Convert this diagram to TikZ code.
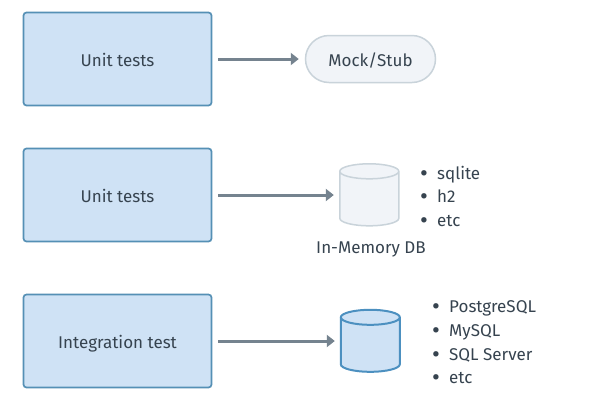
\documentclass[tikz,border=0pt]{standalone}
\usepackage{fontspec}
\setmainfont{Fira Sans}
\usepackage{tikz}
\usetikzlibrary{arrows.meta}

\definecolor{boxfill}{HTML}{CFE2F5}
\definecolor{boxline}{HTML}{5590B5}
\definecolor{drumline}{HTML}{4C90C0}
\definecolor{paleFill}{HTML}{F1F4F8}
\definecolor{paleLine}{HTML}{C9D3DA}
\definecolor{inktext}{HTML}{36434F}
\definecolor{linkgray}{HTML}{75838F}

\tikzset{
	labeltext/.style={text=inktext, font=\fontsize{17}{17}\selectfont, text height=14pt, text depth=0pt},
	testbox/.style={labeltext, draw=boxline, fill=boxfill, line width=1.7pt, rounded corners=3pt, minimum width=188pt, minimum height=93pt},
	pillbox/.style={labeltext, draw=paleLine, fill=paleFill, line width=1.5pt, rounded corners=23.5pt, minimum width=130pt, minimum height=47pt},
	link/.style={draw=linkgray, line width=3pt, -{Triangle[length=8pt,width=12pt]}, shorten <=6pt, shorten >=6pt},
	dbspot/.style={minimum width=59pt, minimum height=62pt, inner sep=0pt},
	itemtext/.style={labeltext, anchor=base west, inner sep=0pt},
}

% drum around a named spot: #1 spot, #2 line colour, #3 fill colour, #4 line width
\newcommand{\dbdrum}[4]{
	\filldraw[draw=#2, fill=#3, line width=#4] (#1.north west) ++(0, 7.5) -- ++(0, 47)
		arc[start angle=180, end angle=360, x radius=29.5, y radius=-7.5] -- ++(0, -47)
		arc[start angle=0, end angle=180, x radius=29.5, y radius=-7.5]
		arc[start angle=180, end angle=360, x radius=29.5, y radius=-7.5];
}
\newcommand{\dotmark}{\raisebox{-2pt}{\fontsize{24}{24}\selectfont\textbullet}}

\begin{document}
\begin{tikzpicture}[x=1pt, y=-1pt]
	\useasboundingbox[fill=white] (0, 0) rectangle (600, 400);

	\node[testbox] (unitmock) at (117.5, 59) {Unit tests};
	\node[testbox] (unitmem) at (117.5, 195) {Unit tests};
	\node[testbox] (integ) at (117.5, 341) {Integration test};

	\node[pillbox] (mock) at (370.5, 59) {Mock/Stub};
	\node[dbspot] (memdb) at (369.5, 195) {};
	\node[dbspot] (realdb) at (370.5, 341) {};
	\dbdrum{memdb}{paleLine}{paleFill}{1.5pt}
	\dbdrum{realdb}{drumline}{boxfill}{2pt}
	\node[labeltext, inner sep=0pt] (memlabel) at (371, 246) {In-Memory DB};

	\draw[link] (unitmock) -- (mock);
	\draw[link] (unitmem) -- (memdb);
	\draw[link] (integ) -- (realdb);

	% bullet lists
	\foreach \item/\ypos [count=\i] in {sqlite/179, h2/202, etc/226} {
		\node[itemtext] (memitem\i) at (420, \ypos) {\makebox[17pt][l]{\dotmark}\item};
	}
	\foreach \item/\ypos [count=\i] in {PostgreSQL/312, MySQL/336, SQL Server/360, etc/383} {
		\node[itemtext] (realitem\i) at (432, \ypos) {\makebox[17pt][l]{\dotmark}\item};
	}
\end{tikzpicture}
\end{document}
